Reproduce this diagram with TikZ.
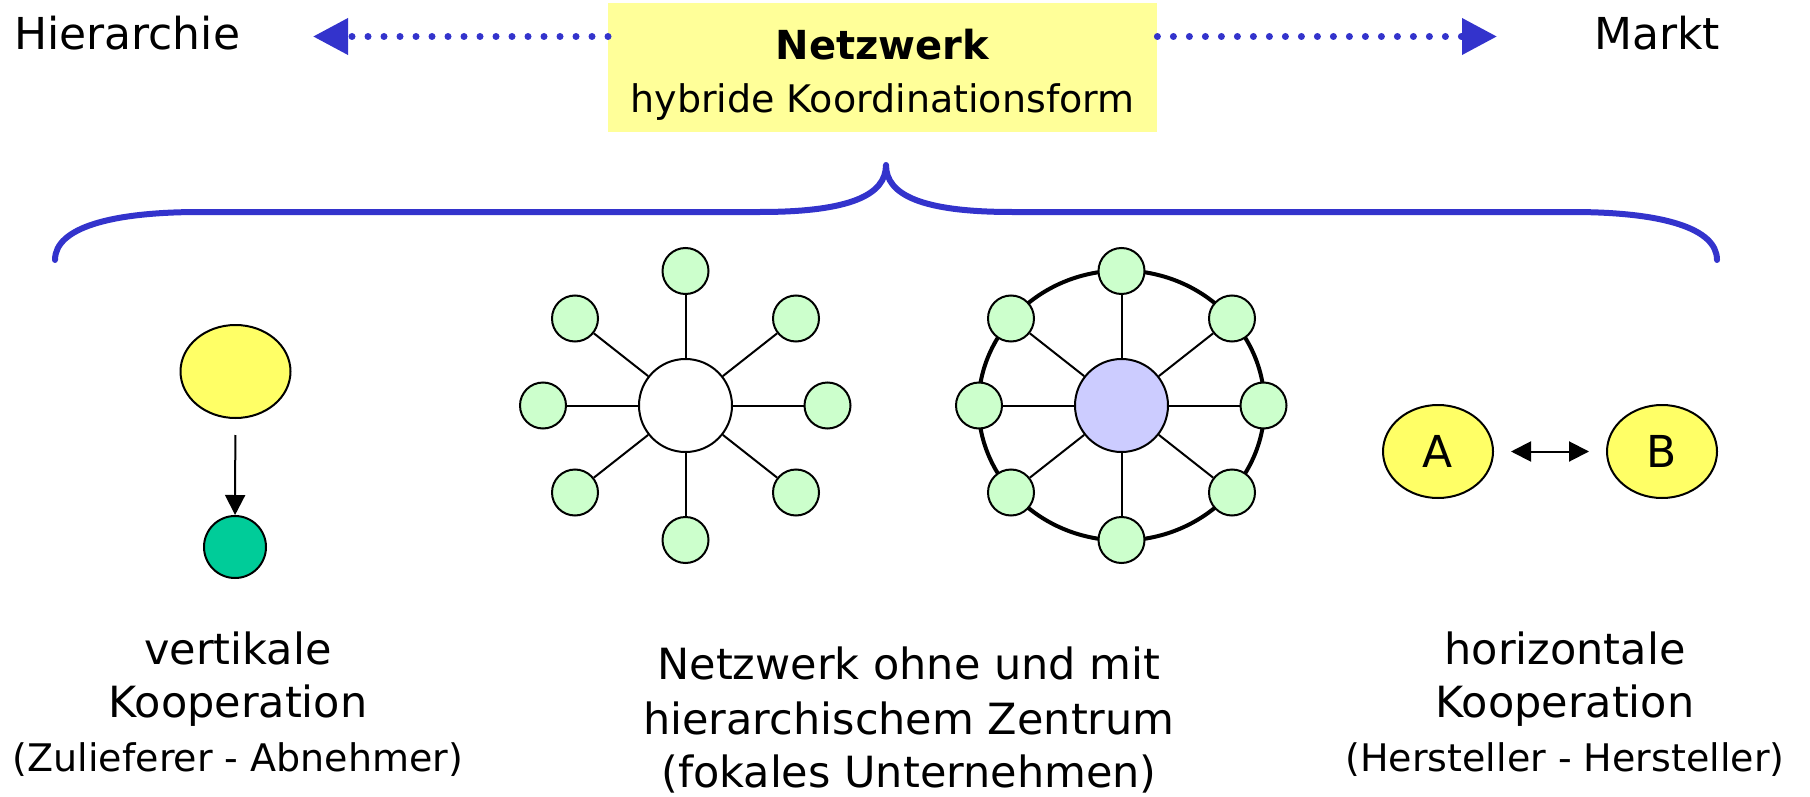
\documentclass[tikz,border=0pt]{standalone}
\usepackage{fontspec}
\setmainfont{DejaVu Sans}
\usetikzlibrary{shapes.geometric,arrows.meta}

\definecolor{netblue}{HTML}{3333CC}
\definecolor{boxyellow}{HTML}{FFFF99}
\definecolor{partyyellow}{HTML}{FFFF66}
\definecolor{satgreen}{HTML}{CCFFCC}
\definecolor{supplier}{HTML}{00CC99}
\definecolor{focal}{HTML}{CCCCFF}

\tikzset{
  txt/.style={font=\fontsize{43}{50}\selectfont, inner sep=0pt, anchor=base},
  txtsmall/.style={font=\fontsize{38}{46}\selectfont, inner sep=0pt, anchor=base},
  sat/.style={circle, draw=black, line width=2pt, fill=satgreen, minimum size=46pt, inner sep=0pt},
  hub/.style={circle, draw=black, line width=2pt, minimum size=93pt, inner sep=0pt},
  party/.style={ellipse, draw=black, line width=2pt, fill=partyyellow,
    minimum width=110pt, minimum height=93pt, inner sep=0pt,
    font=\fontsize{44}{50}\selectfont},
  ringline/.style={ellipse, draw=black, line width=4pt, minimum width=286pt, minimum height=270pt, inner sep=0pt},
  spoke/.style={draw=black, line width=2pt},
  dotline/.style={draw=netblue, line width=7pt, line cap=round, dash pattern=on 0pt off 16pt,
    -{Triangle[length=35pt,width=35pt]}},
  flow/.style={draw=black, line width=2pt, -{Triangle[length=20pt,width=20pt]}},
  mutual/.style={draw=black, line width=2pt,
    {Triangle[length=20pt,width=20pt]}-{Triangle[length=20pt,width=20pt]}},
  bracket/.style={draw=netblue, line width=6pt, line cap=round, line join=round},
}

\begin{document}
\begin{tikzpicture}[x=1pt,y=-1pt]
\useasboundingbox (0,0) rectangle (1810,797);

% top row: continuum between hierarchy and market
\node[fill=boxyellow, minimum width=549pt, minimum height=129pt, inner sep=0pt, anchor=north west]
  (box) at (608,3) {};
\node[font=\bfseries\fontsize{40}{46}\selectfont, inner sep=0pt, anchor=base] (boxtitle) at (882.5,60) {Netzwerk};
\node[font=\fontsize{38}{46}\selectfont, inner sep=0pt, anchor=base] (boxsub) at (882.5,113) {hybride Koordinationsform};

\node[font=\fontsize{44}{50}\selectfont, inner sep=0pt, anchor=base west] (hier) at (14,50) {Hierarchie};
\node[font=\fontsize{44}{50}\selectfont, inner sep=0pt, anchor=base west] (markt) at (1594,50) {Markt};

\coordinate (hierTip) at (313,36.5);
\coordinate (marktTip) at (1497,36.5);
\draw[dotline] (hierTip -| box.west) -- (hierTip);
\draw[dotline] (marktTip -| box.east) -- (marktTip);

% curly brace
\draw[bracket] (55,260) .. controls (55,228) and (110,212) .. (200,212)
  -- (760,212) .. controls (850,212) and (886,195) .. (886,165)
  .. controls (886,195) and (922,212) .. (1012,212)
  -- (1572,212) .. controls (1662,212) and (1717,228) .. (1717,260);

% vertical cooperation
\node[party] (buyer) at (235.5,371.5) {};
\node[circle, draw=black, line width=2pt, fill=supplier, minimum size=62pt, inner sep=0pt] (supplier) at (235,547) {};
\draw[flow, shorten <=16pt] (buyer) -- (supplier);

% network without centre
\node[hub, fill=white] (hubA) at (685.5,405.5) {};
\foreach \i/\dx/\dy in {1/0/-134.5, 2/110.5/-87, 3/142/0, 4/110.5/87, 5/0/134.5, 6/-110.5/87, 7/-142.5/0, 8/-110.5/-87} {
  \node[sat] (a\i) at ([shift={(\dx,\dy)}]hubA) {};
  \draw[spoke] (hubA) -- (a\i);
}

% network with focal centre
\node[ringline] (ringB) at (1121.5,405.5) {};
\node[hub, fill=focal] (hubB) at (1121.5,405.5) {};
\foreach \i/\dx/\dy in {1/0/-134.5, 2/110.5/-87, 3/142/0, 4/110.5/87, 5/0/134.5, 6/-110.5/87, 7/-142.5/0, 8/-110.5/-87} {
  \node[sat] (b\i) at ([shift={(\dx,\dy)}]hubB) {};
  \draw[spoke] (hubB) -- (b\i);
}

% horizontal cooperation
\node[party] (pA) at (1438,451.5) {A};
\node[party] (pB) at (1662,451.5) {B};
\draw[mutual, shorten <=17pt, shorten >=17pt] (pA) -- (pB);

% captions
\node[txt] (v1) at (238,664) {vertikale};
\node[txt] (v2) at (238,717) {Kooperation};
\node[txtsmall] (v3) at (238,771) {(Zulieferer - Abnehmer)};

\node[txt] (n1) at (909,679) {Netzwerk ohne und mit};
\node[txt] (n2) at (909,734) {hierarchischem Zentrum};
\node[txt] (n3) at (909,787) {(fokales Unternehmen)};

\node[txt] (h1) at (1565,664) {horizontale};
\node[txt] (h2) at (1565,717) {Kooperation};
\node[txtsmall] (h3) at (1565,771) {(Hersteller - Hersteller)};
\end{tikzpicture}
\end{document}
